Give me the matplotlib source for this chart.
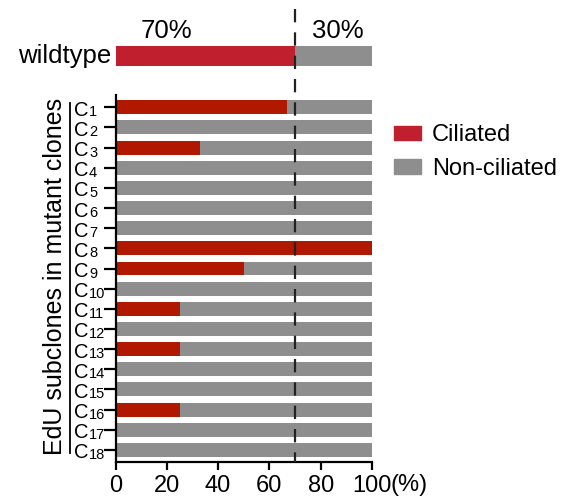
import matplotlib
matplotlib.use("Agg")
import matplotlib.pyplot as plt
import matplotlib.transforms as mtransforms
from matplotlib.patches import Patch
from matplotlib.lines import Line2D

plt.rcParams['font.family'] = ['Liberation Sans', 'DejaVu Sans']

# Data
clones = [f"C{i}" for i in range(1, 19)]
ciliated = [67, 0, 33, 0, 0, 0, 0, 100, 50, 0, 25, 0, 25, 0, 0, 25, 0, 0]
wildtype_ciliated = 70
xticks = [0, 20, 40, 60, 80, 100]
xtick_labels = ["0", "20", "40", "60", "80", "100"]
threshold = 70

RED_WT = "#C01F2E"
RED_CL = "#B01800"
GRAY = "#8E8E8E"

W, H = 584, 501
fig = plt.figure(figsize=(W / 100, H / 100), dpi=100)

def fx(px):
    return px / W

def fy(py):
    return 1 - py / H

x0, x1 = 115.5, 372
ax = fig.add_axes([fx(x0), fy(462), fx(x1) - fx(x0), (462 - 95) / H])
ypos = list(range(len(clones)))
non = [100 - c for c in ciliated]
ax.barh(ypos, ciliated, height=0.69, color=RED_CL, linewidth=0)
ax.barh(ypos, non, left=ciliated, height=0.69, color=GRAY, linewidth=0)
ax.set_xlim(0, 100)
ax.set_ylim(17.6, -0.61)
ax.set_yticks(ypos)
ax.set_yticklabels([""] * len(clones))
ax.set_xticks(xticks)
ax.set_xticklabels(xtick_labels, fontsize=17)
for s in ['top', 'right']:
    ax.spines[s].set_visible(False)
ax.spines['left'].set_linewidth(1.6)
ax.spines['bottom'].set_linewidth(1.6)
ax.tick_params(axis='y', length=8.5, width=1.6, pad=2)
ax.tick_params(axis='x', length=6, width=1.6, pad=3)
ax.annotate("(%)", xy=(100, 0), xycoords=('data', 'axes fraction'),
            xytext=(13, -9), textcoords='offset points', fontsize=17,
            ha='left', va='top', annotation_clip=False)

# clone labels: "C" with subscript number
axw_px = x1 - x0
base = mtransforms.blended_transform_factory(ax.transAxes, ax.transData)
tC = mtransforms.offset_copy(base, fig=fig, y=-8.5, units='dots')
tS = mtransforms.offset_copy(base, fig=fig, y=-9.0, units='dots')
for i, c in enumerate(clones):
    ax.text((74 - x0) / axw_px, i, c[0], transform=tC, fontsize=14.5,
            ha='left', va='baseline', clip_on=False)
    ax.text((89 - x0) / axw_px, i, c[1:], transform=tS, fontsize=10.5,
            ha='left', va='baseline', clip_on=False)

# wildtype axes
axw = fig.add_axes([fx(x0), fy(66), fx(x1) - fx(x0), 20 / H])
axw.barh([0], [wildtype_ciliated], height=1, color=RED_WT, linewidth=0)
axw.barh([0], [100 - wildtype_ciliated], left=[wildtype_ciliated], height=1,
         color=GRAY, linewidth=0)
axw.set_xlim(0, 100)
axw.set_ylim(-0.5, 0.5)
axw.axis('off')
fig.text(fx(111), fy(56), "wildtype", fontsize=18.5, ha='right', va='center')
fig.text(fx(166), fy(31), f"{wildtype_ciliated}%", fontsize=18.5, ha='center', va='center')
fig.text(fx(338), fy(31), f"{100 - wildtype_ciliated}%", fontsize=18.5, ha='center', va='center')

# dashed threshold line spanning both
trans = mtransforms.blended_transform_factory(ax.transData, fig.transFigure)
fig.add_artist(Line2D([threshold, threshold], [fy(9), fy(462)], transform=trans,
                      color="#222222", linewidth=1.6, linestyle=(0, (6, 4.5))))

# y label and bracket
fig.text(fx(55), fy(276), "EdU subclones in mutant clones", fontsize=18,
         rotation=90, ha='center', va='center')
fig.add_artist(Line2D([fx(70), fx(70)], [fy(103), fy(453)], color='black', linewidth=1.3))

# legend
handles = [Patch(color=RED_WT, label="Ciliated"), Patch(color=GRAY, label="Non-ciliated")]
fig.legend(handles=handles, loc='upper left', bbox_to_anchor=(fx(394), fy(124)),
           frameon=False, fontsize=17, handlelength=1.15, handleheight=0.55,
           handletextpad=0.45, labelspacing=0.5, borderpad=0, borderaxespad=0)

fig.savefig("out.png", dpi=100)
